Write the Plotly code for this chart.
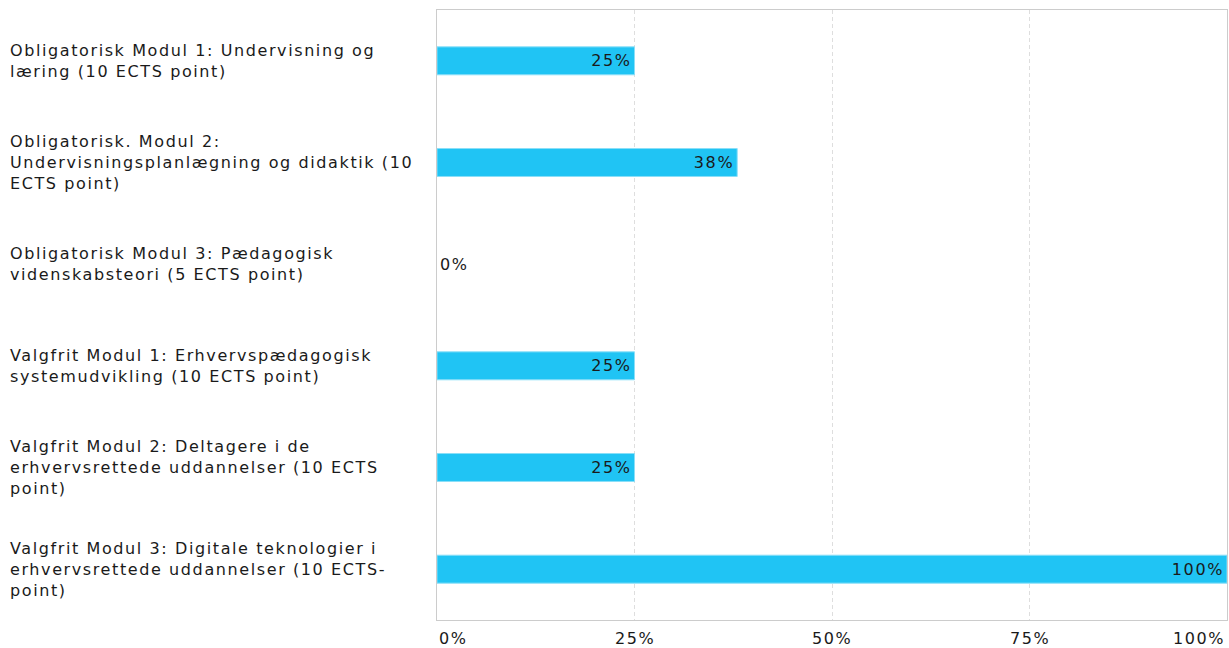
import plotly.graph_objects as go

categories = [
    ["Obligatorisk Modul 1: Undervisning og", "læring (10 ECTS point)"],
    ["Obligatorisk. Modul 2:", "Undervisningsplanlægning og didaktik (10", "ECTS point)"],
    ["Obligatorisk Modul 3: Pædagogisk", "videnskabsteori (5 ECTS point)"],
    ["Valgfrit Modul 1: Erhvervspædagogisk", "systemudvikling (10 ECTS point)"],
    ["Valgfrit Modul 2: Deltagere i de", "erhvervsrettede uddannelser (10 ECTS", "point)"],
    ["Valgfrit Modul 3: Digitale teknologier i", "erhvervsrettede uddannelser (10 ECTS-", "point)"],
]
values = [25, 38, 0, 25, 25, 100]
tick_vals = [0, 25, 50, 75, 100]
tick_text = ["0%", "25%", "50%", "75%", "100%"]

FONT = "DejaVu Sans"
FS = 16
LS = "1.6px"
TXT = "#1a1a1a"
W, H = 1229, 648
ML, MR, MT, MB = 437, 2, 10, 28
PW = W - ML - MR


def sp(s):
    return f'<span style="letter-spacing:{LS}">{s}</span>'


fig = go.Figure()
fig.add_trace(go.Bar(
    y=list(range(len(categories))),
    x=values,
    orientation="h",
    marker=dict(color="#20c4f4",
                line=dict(color="#8adff8", width=[1 if v > 0 else 0 for v in values])),
    text=[sp(f"{v}%") for v in values],
    textposition=["inside" if v > 0 else "outside" for v in values],
    insidetextanchor="end",
    textfont=dict(family=FONT, size=FS, color=TXT),
    cliponaxis=False,
    width=0.275,
    hoverinfo="skip",
))

for i, lines in enumerate(categories):
    fig.add_annotation(
        x=-(ML - 8) / PW, xref="paper", y=i, yref="y",
        text="<br>".join(sp(l) for l in lines), showarrow=False,
        xanchor="left", yanchor="middle", align="left",
        font=dict(family=FONT, size=FS, color=TXT),
    )

for v, t in zip(tick_vals, tick_text):
    anchor = "left" if v == 0 else ("right" if v == 100 else "center")
    fig.add_annotation(
        x=v, xref="x", y=-18 / (H - MT - MB), yref="paper",
        text=sp(t), showarrow=False, xanchor=anchor, yanchor="middle",
        font=dict(family=FONT, size=FS, color=TXT),
    )

fig.update_layout(
    width=W, height=H,
    margin=dict(l=ML, r=MR, t=MT, b=MB),
    plot_bgcolor="white", paper_bgcolor="white",
    showlegend=False,
    xaxis=dict(range=[0, 100], tickvals=tick_vals, showticklabels=False,
               showgrid=True, gridcolor="#dedede", griddash="4px,3px", gridwidth=1,
               zeroline=False, showline=True, linecolor="#cccccc", linewidth=1, mirror=True),
    yaxis=dict(range=[5.5, -0.5], showticklabels=False, showgrid=False, zeroline=False,
               showline=True, linecolor="#cccccc", linewidth=1, mirror=True),
)

fig.write_html("out.html", config={"displayModeBar": False},
               post_script="document.body.style.margin='0';document.body.style.overflow='hidden';")
